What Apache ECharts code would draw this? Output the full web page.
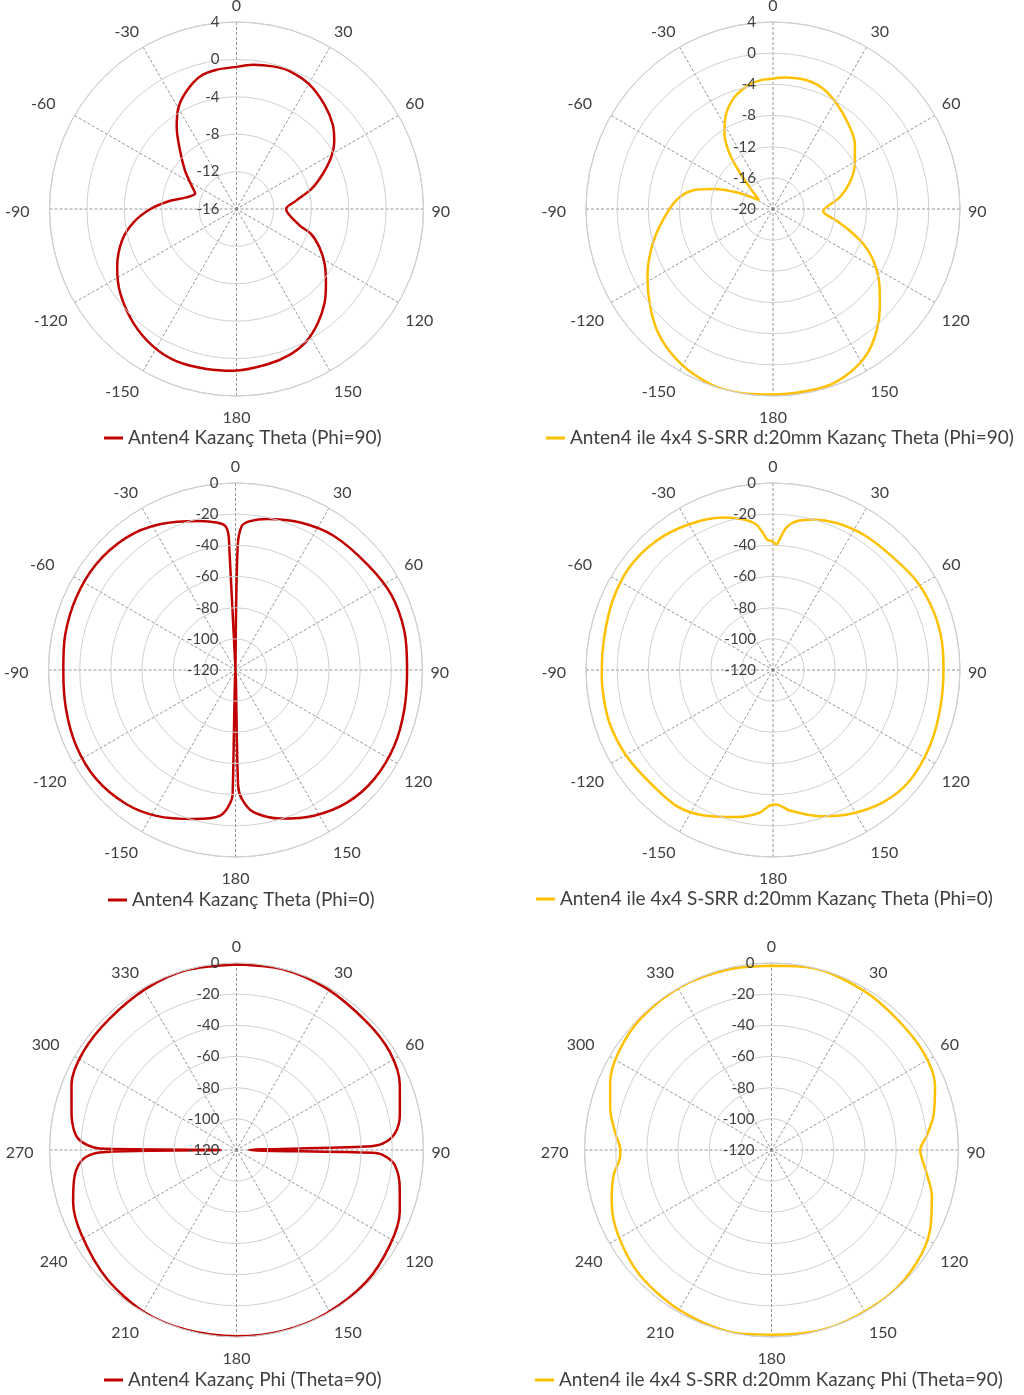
<!DOCTYPE html>
<html>
<head>
<meta charset="utf-8">
<script src="https://cdn.jsdelivr.net/npm/echarts@6/dist/echarts.min.js"></script>
<style>
  html, body { margin: 0; padding: 0; background: #fff; }
  #main { width: 1024px; height: 1395px; }
</style>
</head>
<body>
<div id="main"></div>
<script>
// Anten4 radiation patterns (gain, dB)
var names = [
  'Anten4 Kazanç Theta (Phi=90)',
  'Anten4 ile 4x4 S-SRR d:20mm Kazanç Theta (Phi=90)',
  'Anten4 Kazanç Theta (Phi=0)',
  'Anten4 ile 4x4 S-SRR d:20mm Kazanç Theta (Phi=0)',
  'Anten4 Kazanç Phi (Theta=90)',
  'Anten4 ile 4x4 S-SRR d:20mm Kazanç Phi (Theta=90)'
];

// top-left: Theta (Phi=90)
var ang1 = [0, 6.6, 14.3, 21, 30.4, 40.1, 48.7, 55.2, 61.5, 68, 75, 82, 90, 104.7, 108.4, 114.7, 121.9, 129.8, 137, 144.6, 152.3, 160, 169,
  -179, -169.4, -158.6, -149, -138, -126, -116, -105.4, -97.4, -90, -82.9, -76.9, -69.4, -62.6, -53.4, -44.2, -36.3, -29.8, -22.9, -15.4, -8.1, 0];
var gain1 = [-0.8, -0.47, -0.26, -0.2, -0.57, -1.4, -2.3, -3.27, -4.5, -6.07, -7.7, -9.55, -10.7, -9.0, -7.6, -6.25, -4.9, -3.55, -2.2, -1.0, 0.03, 0.6, 0.95,
  1.3, 1.4, 1.5, 1.2, 0.45, -0.64, -1.8, -3.3, -4.9, -6.8, -8.85, -10.5, -11.27, -10.6, -9.15, -7.35, -5.2, -3.5, -2.3, -1.3, -0.96, -0.8];

// top-right: with S-SRR, Theta (Phi=90)
var ang2 = [0, 5, 14.6, 22.6, 31.1, 41.4, 51.5, 61.1, 70.8, 80, 92.7, 100.4, 105.8, 111.2, 117.3, 125.3, 132.7, 139.7, 147.2, 154.9, 163.2, 172.7, 180,
  -171.8, -162.4, -152.7, -143.9, -135.4, -126.6, -117.5, -106.3, -96, -85, -77, -71.6, -65.6, -57.3, -47, -42.3, -38.2, -32.8, -26.2, -18.9, -10.6, -4.4, 0];
var gain2 = [-3.27, -3.07, -2.93, -3.27, -4.2, -5.4, -6.57, -8.0, -9.55, -11.3, -13.56, -11.7, -9.75, -7.56, -5.5, -3.27, -1.34, 0.55, 2.2, 3.2, 3.76, 3.77, 3.8,
  3.95, 3.95, 3.4, 2.57, 1.39, -0.22, -1.85, -3.9, -5.76, -7.5, -9.4, -11.85, -14.8, -17.86, -15.9, -13.6, -11.0, -8.5, -6.38, -4.8, -3.72, -3.35, -3.27];

// middle-left: Theta (Phi=0)
var ang3 = [0, 1, 2.5, 5.6, 11.8, 23.8, 36.3, 51.4, 64.1, 77.1, 90, 102.9, 115.4, 128.1, 139.8, 151.7, 163.2, 172.8, 177.2, 178.7, 180,
  -178.7, -178.4, -174, -164.2, -151.5, -140.8, -128, -115.3, -102.8, -90, -78.3, -65.7, -52.9, -39.5, -27.5, -13.4, -7.3, -4.1, -3.0, -2.9, 0];
var gain3 = [-120, -41, -27.5, -24, -21, -16.6, -13.3, -11.6, -9.0, -8.8, -9.9, -8.8, -7.1, -6.8, -8.8, -13.8, -20.4, -28, -37.2, -45.8, -120,
  -44, -37.2, -26, -20.6, -13.5, -9.0, -6.5, -6.8, -8.4, -9.5, -8.4, -7.7, -7.7, -9.9, -14.6, -21.7, -24.6, -27.3, -32.8, -43.5, -120];

// middle-right: with S-SRR, Theta (Phi=0)
var ang4 = [0, 1.5, 3.2, 5.4, 8.9, 14.9, 23.4, 33.7, 45.4, 58.4, 70, 80.4, 90, 103, 115.6, 128.8, 140.1, 151.9, 162.2, 173.2, 178.6,
  -178.6, -174.6, -166, -154.2, -144.4, -132.2, -120, -107.6, -96.2, -90, -79.3, -66.9, -54.6, -42.3, -29.9, -18.2, -11.3, -6.6, -4.2, -2.6, -1, 0];
var gain4 = [-37.5, -39.5, -35, -28, -23.4, -20, -17.2, -15.5, -14.6, -11.6, -10.3, -10.1, -10.6, -9.9, -8.2, -7.1, -9.5, -15.3, -21.5, -29.2, -33.7,
  -33, -28, -22.7, -16.4, -13, -12.9, -10.9, -9.7, -9.9, -10.1, -9.7, -7.9, -6.7, -8.2, -12.1, -17, -21.4, -26, -31.8, -36.3, -37, -37.5];

// bottom-left: Phi (Theta=90)
var ang5 = [0, 14.4, 29.1, 45.4, 57.3, 68.3, 77.9, 84, 87.4, 88.5, 90, 91.2, 92, 95.4, 103.2, 110.7, 121.8, 135.4, 151.4, 165.7, 180, 195.3, 209.7,
  225.4, 241.3, 252.4, 261.2, 266.6, 269, 270, 270.6, 274.2, 282, 291.5, 302.7, 316, 330.9, 344.5, 360];
var gain5 = [-0.9, -0.2, -1.3, -2.8, -3.2, -7.2, -12.8, -17.8, -25.8, -36.6, -112, -33, -25.9, -18, -12.4, -8, -4.2, -1.3, -0.3, -0.2, -0.5, -0.2, -0.3,
  -2.8, -6.6, -10, -15, -21.4, -32, -110, -32, -18, -11.8, -6.2, -3.2, -2.8, -1.3, -0.2, -0.9];

// bottom-right: with S-SRR, Phi (Theta=90)
var ang6 = [0, 12.9, 30, 43.7, 57.3, 68.5, 78, 84.7, 90, 97, 105.9, 116.5, 127.7, 140.8, 156.4, 167, 180, 192.8, 209.6, 226.3, 240.8, 251.9,
  260.8, 267.9, 270.4, 276.4, 284.3, 292.8, 302.6, 315, 330.9, 347.1, 360];
var gain6 = [-1.7, -0.2, -1.9, -3.6, -4.1, -7.2, -13.7, -19.9, -24.6, -20.6, -13, -6.2, -2.1, -0.2, -0.1, -0.3, -1.5, -0.3, -1.5, -3.4, -7.4, -12.1,
  -17.3, -22.9, -22.9, -19, -13.2, -7.7, -3.5, -1, -0.2, -0.9, -1.7];

var angles = [ang1, ang2, ang3, ang4, ang5, ang6];
var gains = [gain1, gain2, gain3, gain4, gain5, gain6];

// radial scale of each panel: min, max, step
var rMin = [-16, -20, -120, -120, -120, -120];
var rMax = [4, 4, 0, 0, 0, 0];
var rStep = [4, 4, 20, 20, 20, 20];

var red = '#C00000';
var gold = '#FFC000';
var colors = [red, gold, red, gold, red, gold];

var centers = [[236.5, 209], [773, 209], [235.5, 670], [773, 670], [236.5, 1150], [771.5, 1150]];
var legendPos = [[104, 428], [546, 428], [108, 890], [536, 889], [104, 1370], [535, 1370]];

var fnt = 'Lato, "Open Sans", sans-serif';
var txt = '#404040';

var chart = echarts.init(document.getElementById('main'));

// the left-hand labels sit a little further out in the original
function wrapFar(v, s) {
  if (v === 270 || v === 300) return '{far|' + s + '}';
  return s;
}
// top rows: signed angles -150..180, bottom row: 0..330
function signedLabel(v) { return wrapFar(v, String(v > 180 ? v - 360 : v)); }
function plainLabel(v) { return wrapFar(v, String(v)); }

var polar = [], angleAxis = [], radiusAxis = [], series = [], legend = [];
for (var i = 0; i < 6; i++) {
  var signed = i < 4;
  polar.push({ center: centers[i], radius: 187 });
  angleAxis.push({
    polarIndex: i,
    type: 'value',
    min: 0,
    max: 360,
    interval: 30,
    startAngle: 90,
    clockwise: true,
    axisLine: { show: true, lineStyle: { color: '#c4c4c4', width: 1 } },
    axisTick: { show: false },
    axisLabel: {
      margin: 8,
      padding: [6, 0, 0, 0],
      color: txt,
      fontFamily: fnt,
      fontSize: 16,
      formatter: signed ? signedLabel : plainLabel,
      rich: {
        far: { color: txt, fontFamily: fnt, fontSize: 16, padding: [0, signed ? 12 : 8, 0, 0] }
      }
    },
    splitLine: { show: true, lineStyle: { color: '#7a7a7a', width: 0.8, type: [3, 2] } }
  });
  radiusAxis.push({
    polarIndex: i,
    type: 'value',
    min: rMin[i],
    max: rMax[i],
    interval: rStep[i],
    axisLine: { show: false },
    axisTick: { show: false },
    axisLabel: { margin: 17, padding: [4, 0, 0, 0], color: txt, fontFamily: fnt, fontSize: 15 },
    splitLine: { show: true, lineStyle: { color: '#d0d0d0', width: 1 } },
    z: 5
  });
  var pts = [];
  for (var k = 0; k < angles[i].length; k++) {
    var a = angles[i][k];
    pts.push([gains[i][k], a < 0 ? a + 360 : a]);
  }
  series.push({
    name: names[i],
    type: 'line',
    coordinateSystem: 'polar',
    polarIndex: i,
    symbol: 'none',
    smooth: 0.3,
    clip: false,
    lineStyle: { color: colors[i], width: 2.5 },
    itemStyle: { color: colors[i] },
    data: pts
  });
  legend.push({
    data: [names[i]],
    left: legendPos[i][0],
    top: legendPos[i][1],
    padding: 0,
    icon: 'rect',
    itemWidth: 19,
    itemHeight: 3,
    selectedMode: false,
    textStyle: { color: txt, fontFamily: fnt, fontSize: 19, lineHeight: 20 }
  });
}

chart.setOption({
  backgroundColor: '#fff',
  animation: false,
  polar: polar,
  angleAxis: angleAxis,
  radiusAxis: radiusAxis,
  legend: legend,
  series: series
});
</script>
</body>
</html>
